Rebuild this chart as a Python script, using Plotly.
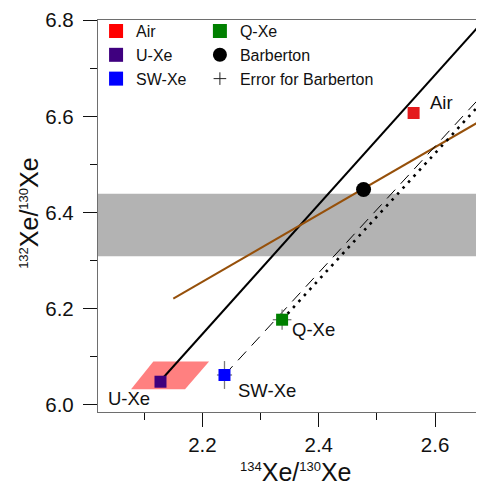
import plotly.graph_objects as go

# ---------------- data ----------------
ref_names = ["Air", "U-Xe", "SW-Xe", "Q-Xe"]
ref_x = [2.563, 2.128, 2.238, 2.337]          # 134Xe/130Xe
ref_y = [6.607, 6.048, 6.062, 6.177]          # 132Xe/130Xe
ref_err_x = [0.0, 0.0, 0.013, 0.016]
ref_err_y = [0.0, 0.0, 0.029, 0.021]
ref_colors = ["#e41a1c", "#3f007d", "#0000ff", "#008000"]
legend_colors = ["#ff0000", "#3f007f", "#0000ff", "#008000"]

barb_name = "Barberton"
barb_x = [2.477]
barb_y = [6.448]
barb_err_name = "Error for Barberton"
barb_err_x = [0.004]
barb_err_y = [0.004]

# lines
black_x = [2.128, 2.69]
black_y = [6.050, 6.808]
brown_x = [2.150, 2.69]
brown_y = [6.221, 6.599]
dash_x = [2.238, 2.69]
dash_y = [6.062, 6.656]
dot_x = [2.337, 2.69]
dot_y = [6.177, 6.642]

# U-Xe uncertainty region (parallelogram)
uxe_box_x = [2.0774, 2.1157, 2.2115, 2.1702, 2.0774]
uxe_box_y = [6.0325, 6.090, 6.090, 6.0325, 6.0325]

# Barberton 132/130 band
band_y = [6.309, 6.439]

# point labels
label_text = ["Air", "Q-Xe", "SW-Xe", "U-Xe"]
label_x = [2.587, 2.350, 2.257, 2.035]
label_y = [6.629, 6.156, 6.029, 6.0135]

x_title = '<sup><span style="font-size:13px">134</span></sup>Xe/<sup><span style="font-size:13px">130</span></sup>Xe'
y_title = '<sup><span style="font-size:13px">132</span></sup>Xe/<sup><span style="font-size:13px">130</span></sup>Xe'

FONT = "Liberation Sans, Arial, Helvetica, sans-serif"

fig = go.Figure()

# band
fig.add_shape(type="rect", xref="paper", x0=0, x1=1, yref="y",
              y0=band_y[0], y1=band_y[1], fillcolor="#b3b3b3",
              line_width=0, layer="below")

# U-Xe region
fig.add_trace(go.Scatter(x=uxe_box_x, y=uxe_box_y, mode="lines", fill="toself",
                         fillcolor="#ff8080", line=dict(width=0),
                         showlegend=False, hoverinfo="skip"))

# lines
fig.add_trace(go.Scatter(x=black_x, y=black_y, mode="lines",
                         line=dict(color="black", width=2), showlegend=False))
fig.add_trace(go.Scatter(x=brown_x, y=brown_y, mode="lines",
                         line=dict(color="#96500a", width=2), showlegend=False))
fig.add_trace(go.Scatter(x=dash_x, y=dash_y, mode="lines",
                         line=dict(color="black", width=1, dash="12px,8px"),
                         showlegend=False))
fig.add_trace(go.Scatter(x=dot_x, y=dot_y, mode="lines",
                         line=dict(color="black", width=2.6, dash="2.6px,5.5px"),
                         showlegend=False))

# reference points with error bars
for i, n in enumerate(ref_names):
    fig.add_trace(go.Scatter(
        x=[ref_x[i]], y=[ref_y[i]], mode="markers", name=n, showlegend=False,
        marker=dict(symbol="square", size=12, color=ref_colors[i]),
        error_x=dict(type="data", array=[ref_err_x[i]], color="#7a7a7a",
                     thickness=1.3, width=0, visible=ref_err_x[i] > 0),
        error_y=dict(type="data", array=[ref_err_y[i]], color="#7a7a7a",
                     thickness=1.3, width=0, visible=ref_err_y[i] > 0)))

# Barberton error (under marker) and Barberton point
fig.add_trace(go.Scatter(
    x=barb_x, y=barb_y, mode="markers", name=barb_err_name, showlegend=False,
    marker=dict(symbol="cross-thin", size=9, line=dict(color="#222", width=1)),
    error_x=dict(type="data", array=barb_err_x, color="#222", thickness=1, width=0),
    error_y=dict(type="data", array=barb_err_y, color="#222", thickness=1, width=0)))
fig.add_trace(go.Scatter(x=barb_x, y=barb_y, mode="markers", name=barb_name,
                         showlegend=False,
                         marker=dict(symbol="circle", size=15, color="black")))

# legend entries
leg1 = ["Air", "U-Xe", "SW-Xe"]
for n in leg1:
    i = ref_names.index(n)
    fig.add_trace(go.Scatter(x=[None], y=[None], mode="markers", name=n,
                             legend="legend",
                             marker=dict(symbol="square", size=14,
                                         color=legend_colors[i])))
i = ref_names.index("Q-Xe")
fig.add_trace(go.Scatter(x=[None], y=[None], mode="markers", name="Q-Xe",
                         legend="legend2",
                         marker=dict(symbol="square", size=14, color=legend_colors[i])))
fig.add_trace(go.Scatter(x=[None], y=[None], mode="markers", name=barb_name,
                         legend="legend2",
                         marker=dict(symbol="circle", size=14, color="black")))
fig.add_trace(go.Scatter(x=[None], y=[None], mode="markers", name=barb_err_name,
                         legend="legend2",
                         marker=dict(symbol="cross-thin", size=9,
                                     line=dict(color="#222", width=1))))

for t, x, y in zip(label_text, label_x, label_y):
    fig.add_annotation(x=x, y=y, text=t, showarrow=False, xanchor="left",
                       yanchor="middle", font=dict(family=FONT, size=18.5, color="#111"))

# axis titles
fig.add_annotation(x=0.513, y=0, xref="paper", yref="paper", text=x_title,
                   showarrow=False, xanchor="center", yanchor="top", yshift=-44,
                   font=dict(family=FONT, size=25, color="#111"))
fig.add_annotation(x=0, y=0.508, xref="paper", yref="paper", text=y_title,
                   showarrow=False, xanchor="center", yanchor="middle",
                   xshift=-69, textangle=-90,
                   font=dict(family=FONT, size=25, color="#111"))

axis_common = dict(
    showgrid=False, zeroline=False, showline=True, linecolor="#6e6e6e",
    linewidth=1.3, ticks="outside", ticklen=14, tickwidth=1.3, tickcolor="#111",
    tickfont=dict(family=FONT, size=20.5, color="#111"), tickformat=".1f",
    minor=dict(ticks="outside", ticklen=7, tickwidth=1.3, tickcolor="#111"),
    automargin=False,
)

# the page body adds an 8px offset, so the figure is sized 8px smaller
fig.update_layout(
    width=476, height=475,
    margin=dict(l=90, r=0, t=12, b=71),
    plot_bgcolor="white", paper_bgcolor="white",
    font=dict(family=FONT, color="#111"),
    xaxis=dict(axis_common, range=[2.0206, 2.684], tick0=2.0, dtick=0.2,
               minor_dtick=0.1, mirror=True),
    yaxis=dict(axis_common, range=[5.985, 6.8005], tick0=6.0, dtick=0.2,
               minor_dtick=0.1, mirror=False, ticklabelstandoff=5),
    legend=dict(x=-0.005, y=1.015, xanchor="left", yanchor="top",
                bgcolor="rgba(0,0,0,0)", font=dict(family=FONT, size=16, color="#111"),
                itemwidth=30, tracegroupgap=0),
    legend2=dict(x=0.264, y=1.015, xanchor="left", yanchor="top",
                 bgcolor="rgba(0,0,0,0)", font=dict(family=FONT, size=16, color="#111"),
                 itemwidth=30, tracegroupgap=0),
)

fig.write_html("out.html")
